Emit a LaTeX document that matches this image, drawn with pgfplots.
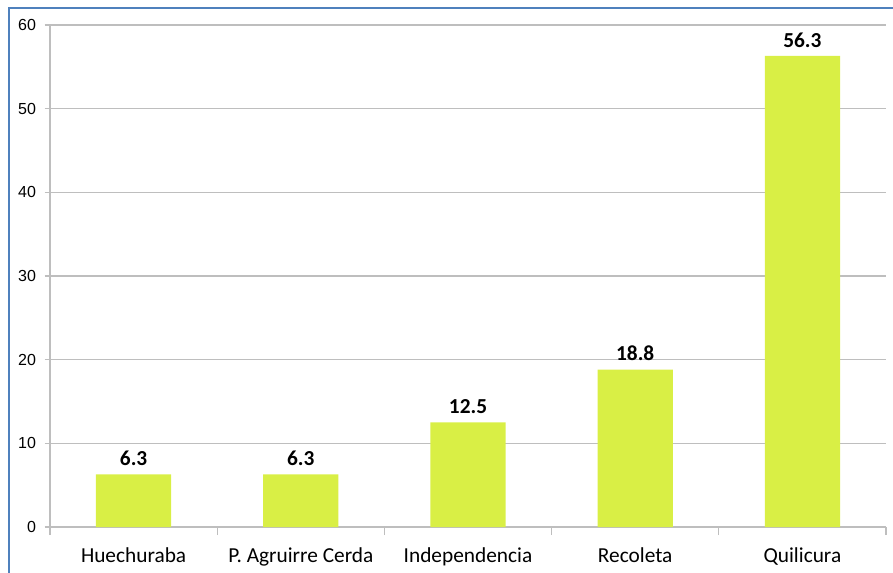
\documentclass[border=0pt]{standalone}
\usepackage{pgfplots}
\pgfplotsset{compat=1.18}
\usepackage{fontspec}
\setmainfont{Carlito}
\newfontfamily\tickfont{Liberation Sans}
\definecolor{barcol}{RGB}{217,239,69}
\definecolor{gridcol}{RGB}{190,190,190}
\definecolor{framecol}{RGB}{79,129,189}
\begin{document}
\begin{tikzpicture}
\useasboundingbox (-37.5pt,-33.75pt) rectangle (632.25pt,395.25pt);
\draw[framecol, line width=1pt] (-30.75pt,-50pt) -- (-30.75pt,389.25pt) -- (650pt,389.25pt);
\begin{axis}[
    at={(0pt,0pt)}, anchor=south west,
    scale only axis,
    width=627pt, height=376.5pt,
    ybar, bar width=0.45,
    xmin=-0.5, xmax=4.5,
    ymin=0, ymax=60,
    ytick={0,10,...,60},
    xtick={0,1,2,3,4},
    xticklabels={Huechuraba, P. Agruirre Cerda, Independencia, Recoleta, Quilicura},
    minor xtick={-0.5,0.5,...,4.5},
    major x tick style={draw=none},
    minor x tick style={draw=gridcol, line width=0.8pt},
    minor tick length=6pt,
    y tick style={draw=gridcol, line width=0.8pt},
    major tick length=4pt,
    tick align=outside,
    axis lines*=left,
    axis line style={draw=gridcol, line width=0.8pt},
    ymajorgrids=true,
    grid style={draw=gridcol, line width=0.8pt},
    xticklabel style={font=\fontsize{16}{18}\selectfont, yshift=-8pt},
    yticklabel style={font=\tickfont\fontsize{12}{14}\selectfont, xshift=-3pt},
    /pgf/number format/assume math mode=true,
    nodes near coords={\pgfmathprintnumber[fixed,fixed zerofill,precision=1]{\pgfplotspointmeta}},
    every node near coord/.append style={font=\bfseries\fontsize{16}{18}\selectfont, black, yshift=3pt},
]
\addplot[fill=barcol, draw=none] coordinates {(0,6.3) (1,6.3) (2,12.5) (3,18.8) (4,56.3)};
\end{axis}
\end{tikzpicture}
\end{document}
